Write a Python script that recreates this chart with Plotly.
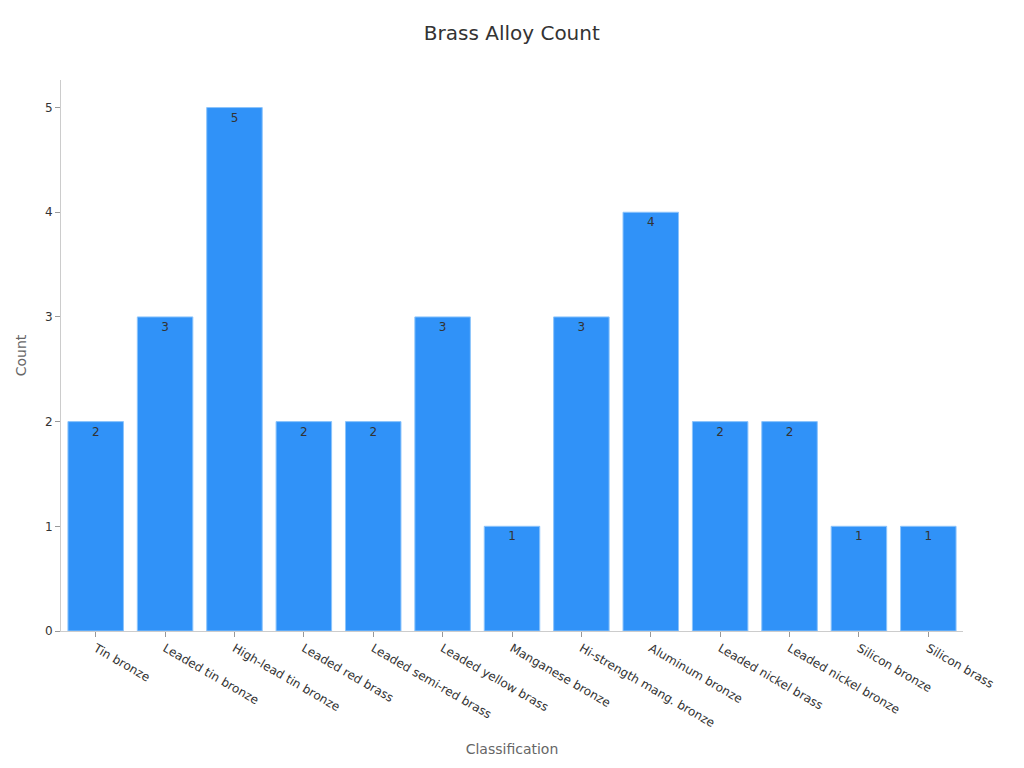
import plotly.graph_objects as go

categories = [
    "Tin bronze", "Leaded tin bronze", "High-lead tin bronze", "Leaded red brass",
    "Leaded semi-red brass", "Leaded yellow brass", "Manganese bronze",
    "Hi-strength mang. bronze", "Aluminum bronze", "Leaded nickel brass",
    "Leaded nickel bronze", "Silicon bronze", "Silicon brass",
]
counts = [2, 3, 5, 2, 2, 3, 1, 3, 4, 2, 2, 1, 1]

fig = go.Figure(
    go.Bar(
        x=categories,
        y=counts,
        text=counts,
        textposition="inside",
        insidetextanchor="end",
        textfont=dict(color="#333333", size=12),
        marker=dict(color="#3092f8", line=dict(color="#8cc4fb", width=1)),
    )
)

# page body adds ~8px offset, so margins/title are shifted to compensate
fig.update_layout(
    title=dict(text="Brass Alloy Count", x=0.492, y=0.977, xanchor="center",
               font=dict(size=20, color="#333333")),
    font=dict(family="DejaVu Sans", color="#333333"),
    plot_bgcolor="white",
    paper_bgcolor="white",
    width=1024,
    height=768,
    margin=dict(l=51, r=69, t=72, b=145),
    bargap=0.2,
    showlegend=False,
)
fig.update_xaxes(
    title=dict(text="Classification", font=dict(size=14, color="#666666")),
    tickangle=30,
    showline=True, linecolor="#cccccc",
    ticks="outside", tickcolor="#999999", ticklen=5,
    showgrid=False,
    tickfont=dict(size=12),
)
fig.update_yaxes(
    title=dict(text="Count", font=dict(size=14, color="#666666")),
    showline=True, linecolor="#cccccc",
    ticks="outside", tickcolor="#999999", ticklen=5,
    showgrid=False, zeroline=False,
    tickfont=dict(size=12),
)

fig.write_html("out.html")
